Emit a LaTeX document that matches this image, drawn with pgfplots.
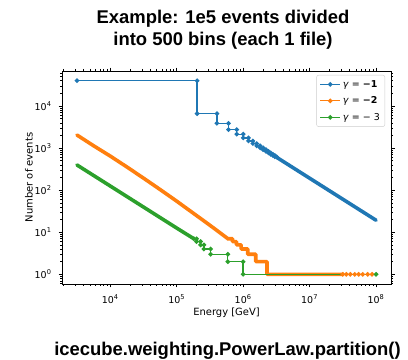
\documentclass[border=0pt]{standalone}
\usepackage{pgfplots}
\pgfplotsset{compat=1.18}
\usepackage{fontspec}
\setmainfont{DejaVu Sans}
\newfontfamily\titlefont{Liberation Sans}
\definecolor{c1}{HTML}{1F77B4}
\definecolor{c2}{HTML}{FF7F0E}
\definecolor{c3}{HTML}{2CA02C}
\begin{document}
\begin{tikzpicture}
\useasboundingbox (0bp,0bp) rectangle (408bp,360bp);
\node[anchor=base, font=\titlefont\bfseries\fontsize{18.5}{22}\selectfont] at (223bp,336.7bp) {Example: 1e5 events divided};
\node[anchor=base, font=\titlefont\bfseries\fontsize{18.5}{22}\selectfont] at (223bp,314.7bp) {into 500 bins (each 1 file)};
\node[anchor=base, font=\titlefont\bfseries\fontsize{18.5}{22}\selectfont] at (227.5bp,5bp) {icecube.weighting.PowerLaw.partition()};
\begin{axis}[
  at={(62bp,76bp)}, anchor=south west,
  scale only axis, width=329bp, height=213bp,
  xmode=log, ymode=log,
  xmin=1883.6, xmax=1.679e8, ymin=0.5886, ymax=68230,
  axis line style={black, line width=0.8bp},
  tick align=outside,
  major tick length=3.5bp, minor tick length=2bp,
  every major tick/.style={black, line width=0.8bp},
  every minor tick/.style={black, line width=0.6bp},
  xtick={1e4,1e5,1e6,1e7,1e8},
  xticklabels={10\textsuperscript{4},10\textsuperscript{5},10\textsuperscript{6},10\textsuperscript{7},10\textsuperscript{8}},
  ytick={1,10,100,1000,10000},
  yticklabels={10\textsuperscript{0},10\textsuperscript{1},10\textsuperscript{2},10\textsuperscript{3},10\textsuperscript{4}},
  minor xtick={2000,3000,4000,5000,6000,7000,8000,9000,20000,30000,40000,50000,60000,70000,80000,90000,2e5,3e5,4e5,5e5,6e5,7e5,8e5,9e5,2e6,3e6,4e6,5e6,6e6,7e6,8e6,9e6,2e7,3e7,4e7,5e7,6e7,7e7,8e7,9e7},
  minor ytick={0.6,0.7,0.8,0.9,2,3,4,5,6,7,8,9,20,30,40,50,60,70,80,90,200,300,400,500,600,700,800,900,2000,3000,4000,5000,6000,7000,8000,9000,20000,30000,40000,50000,60000},
  tick label style={font=\fontsize{9.5}{11}\selectfont},
  xticklabel style={anchor=north, yshift=-3.5bp},
  yticklabel style={anchor=east, xshift=-3.5bp},
  xlabel={Energy [GeV]},
  ylabel={Number of events},
  label style={font=\fontsize{9.5}{11}\selectfont},
  every axis x label/.style={at={(axis description cs:0.5,0)}, anchor=base, yshift=-31bp},
  every axis y label/.style={at={(axis description cs:-0.1003,0.5)}, rotate=90, anchor=center},
  legend cell align=left,
  legend image code/.code={\draw[mark repeat=2,mark phase=2] plot coordinates {(0bp,0bp) (10bp,0bp) (20bp,0bp)};},
  legend style={at={(1,1)}, anchor=north east, xshift=-6bp, yshift=-4bp,
    draw=black!20, rounded corners=2bp, fill=white,
    font=\fontsize{9.5}{11}\selectfont, row sep=4bp, inner sep=3bp},
]
\addlegendimage{c1, line width=1.3bp, mark=*, mark size=1.6bp}
\addlegendentry{\textit{γ} = \textbf{−1}}
\addlegendimage{c2, line width=1.3bp, mark=*, mark size=1.6bp}
\addlegendentry{\textit{γ} = \textbf{−2}}
\addlegendimage{c3, line width=1.3bp, mark=*, mark size=1.6bp}
\addlegendentry{\textit{γ} = − 3}

% gamma = -1
\addplot[c1, line width=1.3bp, mark=*, mark size=1.6bp, forget plot] coordinates {
(3162.3,40174) (203156,40174) (203156,6614) (403150,6614) (403150,3888) (603143,3888)
(603143,2764) (803137,2764) (803137,2146) (1003131,2146) (1003131,1755) (1203124,1755)
(1203124,1484) (1403118,1484) (1403118,1286) (1603112,1286) (1603112,1135) (1803105,1135)
(1803105,1015) (2003099,1015) (2003099,918.5) (2203093,918.5) (2203093,838.6) (2403086,838.6)
(2403086,771.5) (2603080,771.5) (2603080,714.4) (2803074,714.4) (2803074,665.2) (3003067,665.2)
(3003067,622.3) (3203061,622.3)};
\addplot[c1, line width=3.6bp, line cap=round, line join=round, forget plot] coordinates {
(3203061,603) (10000000,193) (30000000,64.3) (100000000,19.3)};

% gamma = -2
\addplot[c2, line width=3.6bp, line cap=round, line join=round, forget plot] coordinates {
(3162.3,2051) (5623,1140) (10000,648.6) (17783,358) (31623,194.1) (56234,104) (100000,54.95)
(177828,28.4) (316228,14.69) (575440,7.24)
(575440,7) (691831,7) (691831,6) (794328,6) (794328,5) (933254,5)
(933254,4) (1174898,4) (1174898,3) (1548817,3) (1548817,2) (2290868,2)
(2290868,1) (31622777,1)};
\addplot[c2, line width=1.3bp, mark=*, mark size=1.6bp, forget plot] coordinates {
(31622777,1) (35700000,1) (41000000,1) (47800000,1) (54800000,1) (63000000,1) (74800000,1) (87100000,1)};

% gamma = -3
\addplot[c3, line width=3.6bp, line cap=round, line join=round, forget plot] coordinates {
(3162.3,398) (10000,126) (100000,12.6) (181970,7)};
\addplot[c3, line width=1.3bp, mark=*, mark size=1.6bp, forget plot] coordinates {
(181970,7) (199526,7) (199526,6) (229087,6) (229087,5) (257040,5) (257040,4) (323594,4)
(323594,3) (588844,3) (588844,2) (1000000,2) (1000000,1) (100000000,1)};
\end{axis}
\end{tikzpicture}
\end{document}
